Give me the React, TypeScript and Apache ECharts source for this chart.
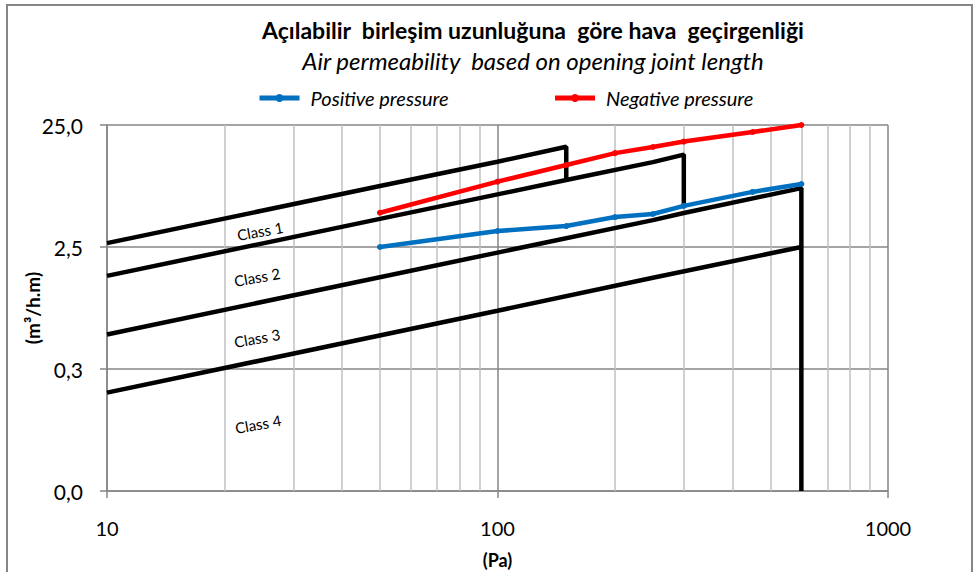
import React, { useEffect, useRef } from "react";
import * as echarts from "echarts";

const titleText = "Açılabilir  birleşim uzunluğuna  göre hava  geçirgenliği";
const subtitleText = "Air permeability  based on opening joint length";
const xAxisTitle = "(Pa)";
const yAxisTitle = "(m³/h.m)";

const yTickLabels = ["0,0", "0,3", "2,5", "25,0"];
const xMinorGrid = [20, 30, 40, 50, 60, 70, 80, 90, 200, 300, 400, 500, 600, 700, 800, 900];

const class1: [number, number][] = [[10, 2.69], [50, 7.9], [100, 12.5], [150, 16.6], [150, 8.85]];
const class2: [number, number][] = [[10, 1.45], [50, 4.25], [100, 6.75], [150, 8.85], [250, 12.4], [300, 14.3], [300, 5.4]];
const class3: [number, number][] = [[10, 0.48], [100, 2.25], [250, 4.15], [300, 4.75], [600, 7.6], [600, 0.025]];
const class4: [number, number][] = [[10, 0.16], [100, 0.75], [250, 1.4], [600, 2.5]];

const positivePressure: [number, number][] = [[50, 2.5], [100, 3.38], [150, 3.71], [200, 4.4], [250, 4.66], [300, 5.43], [450, 7.07], [600, 8.21]];
const negativePressure: [number, number][] = [[50, 4.77], [100, 8.58], [150, 11.75], [200, 14.7], [250, 16.5], [300, 18.3], [450, 21.9], [600, 25.0]];

const classLabels = [
  { text: "Class 1", x: 260, y: 231 },
  { text: "Class 2", x: 257, y: 277 },
  { text: "Class 3", x: 257, y: 338 },
  { text: "Class 4", x: 258, y: 424 },
];

const FONT = "Lato, 'Noto Sans', sans-serif";

export default function App() {
  const ref = useRef<HTMLDivElement>(null);
  useEffect(() => {
    if (!ref.current) return;
    const chart = echarts.init(ref.current, undefined, { renderer: "svg" });
    const classSeries = (name: string, data: [number, number][]) => ({
      name,
      type: "line",
      data,
      xAxisIndex: 0,
      yAxisIndex: 0,
      symbol: "none",
      lineStyle: { color: "#000", width: 4.5 },
      itemStyle: { color: "#000" },
      z: 3,
    });
    chart.setOption({
      animation: false,
      textStyle: { fontFamily: FONT },
      grid: { left: 107, right: 89, top: 125, bottom: 81, outerBoundsMode: "none", containLabel: false },
      legend: {
        data: ["Positive pressure", "Negative pressure"],
        left: 257,
        top: 88,
        padding: 0,
        itemWidth: 40,
        itemHeight: 10,
        itemGap: 104,
        lineStyle: { width: 5 },
        textStyle: { fontFamily: FONT, fontSize: 20, fontStyle: "italic", color: "#000", padding: [0, 0, 0, 6] },
      },
      xAxis: {
        type: "log",
        logBase: 10,
        min: 10,
        max: 1000,
        name: xAxisTitle,
        nameLocation: "middle",
        nameGap: 60,
        nameMoveOverlap: false,
        nameTextStyle: { fontFamily: FONT, fontWeight: "bold", fontSize: 18, color: "#000" },
        axisLine: { show: true, lineStyle: { color: "#868686", width: 1.5 } },
        axisTick: { show: true, length: 7, lineStyle: { color: "#868686", width: 1.5 } },
        axisLabel: { fontFamily: FONT, fontSize: 20, color: "#000", margin: 27, formatter: (v: number) => String(Math.round(v)) },
        splitLine: { show: true, lineStyle: { color: "#868686", width: 1.5 } },
        minorTick: { show: false },
        minorSplitLine: { show: false },
      },
      yAxis: [
        {
          type: "log",
          logBase: 10,
          min: 0.025,
          max: 25,
          position: "left",
          axisLine: { show: false },
          axisTick: { show: false },
          axisLabel: { show: false },
          splitLine: { show: false },
        },
        {
          type: "value",
          min: 0,
          max: 3,
          interval: 1,
          position: "left",
          offset: 0,
          name: yAxisTitle,
          nameLocation: "middle",
          nameGap: 65,
          nameMoveOverlap: false,
          nameTextStyle: { fontFamily: FONT, fontWeight: "bold", fontSize: 19, color: "#000" },
          axisLine: { show: true, lineStyle: { color: "#868686", width: 1.5 } },
          axisTick: { show: true, length: 7, lineStyle: { color: "#868686", width: 1.5 } },
          axisLabel: {
            fontFamily: FONT,
            fontSize: 21,
            color: "#000",
            margin: 24,
            formatter: (v: number) => yTickLabels[Math.round(v)] ?? "",
          },
          splitLine: { show: true, lineStyle: { color: "#868686", width: 1.5 } },
        },
      ],
      series: [
        {
          name: "grid",
          type: "line",
          data: [[10, 0.025]],
          xAxisIndex: 0,
          yAxisIndex: 0,
          symbol: "none",
          lineStyle: { width: 0, opacity: 0 },
          silent: true,
          z: 1,
          markLine: {
            z: 1,
            silent: true,
            symbol: ["none", "none"],
            label: { show: false },
            lineStyle: { color: "#c0c0c0", width: 1.5, type: "solid" },
            data: xMinorGrid.map((v) => ({ xAxis: v })),
          },
        },
        classSeries("Class 1", class1),
        classSeries("Class 2", class2),
        classSeries("Class 3", class3),
        classSeries("Class 4", class4),
        {
          name: "Positive pressure",
          type: "line",
          data: positivePressure,
          xAxisIndex: 0,
          yAxisIndex: 0,
          symbol: "circle",
          symbolSize: 6,
          lineStyle: { color: "#0070C0", width: 4.5 },
          itemStyle: { color: "#0070C0" },
          z: 4,
        },
        {
          name: "Negative pressure",
          type: "line",
          data: negativePressure,
          xAxisIndex: 0,
          yAxisIndex: 0,
          symbol: "circle",
          symbolSize: 6,
          lineStyle: { color: "#FF0000", width: 4.5 },
          itemStyle: { color: "#FF0000" },
          z: 4,
        },
      ],
      graphic: [
        {
          type: "rect",
          shape: { x: 7, y: 5, width: 965, height: 600 },
          style: { fill: "none", stroke: "#868686", lineWidth: 2 },
          silent: true,
        },
        {
          type: "text",
          x: 533,
          y: 30,
          style: { text: titleText, font: `bold 23px ${FONT}`, fill: "#000", align: "center", verticalAlign: "middle" },
        },
        {
          type: "text",
          x: 533,
          y: 60,
          style: { text: subtitleText, font: `italic 24px ${FONT}`, fill: "#000", align: "center", verticalAlign: "middle" },
        },
        ...classLabels.map((c) => ({
          type: "text",
          x: c.x,
          y: c.y,
          rotation: (10 * Math.PI) / 180,
          style: { text: c.text, font: `15px ${FONT}`, fill: "#000", align: "center", verticalAlign: "middle" },
        })),
      ],
    });
    return () => chart.dispose();
  }, []);
  return <div ref={ref} style={{ position: "absolute", left: 0, top: 0, width: 977, height: 572 }} />;
}
